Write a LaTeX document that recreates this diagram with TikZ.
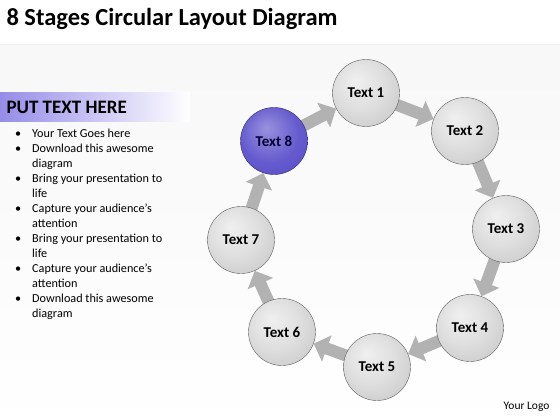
\documentclass[tikz,border=0pt]{standalone}
\usepackage{fontspec}
\setmainfont{Carlito}
\usepackage{tikz}
\usetikzlibrary{positioning, arrows.meta, backgrounds}
\definecolor{stageBlue}{RGB}{84,72,200}
\definecolor{bandPurple}{RGB}{150,140,232}
\definecolor{ringGray}{RGB}{178,178,178}
\pgfdeclareradialshading{stageSphere}{\pgfpoint{-8bp}{10bp}}{color(0bp)=(gray!12); color(18bp)=(gray!25); color(38bp)=(gray!45); color(50bp)=(gray!68)}
\pgfdeclareradialshading{focusSphere}{\pgfpoint{-6bp}{10bp}}{color(0bp)=(stageBlue!60!white); color(22bp)=(stageBlue!90!white); color(42bp)=(stageBlue); color(50bp)=(stageBlue!65!black)}
\tikzstyle{slide} = [x = 1pt, y = -1pt]
\tikzstyle{stageBall} = [circle, minimum size = 67pt, inner sep = 0pt, draw = gray!75!black, thin, shading = stageSphere, font = \fontsize{15}{17}\selectfont\bfseries]
\tikzstyle{focusBall} = [stageBall, shading = focusSphere, draw = stageBlue!55!black, text = black!80!blue]
\tikzstyle{stageArrowStyle} = [draw = ringGray, line width = 12pt, -{Triangle[length = 14pt, width = 27pt]}, shorten <= -4pt]
\newcommand{\stageArrow}[2]{\draw [stageArrowStyle] (#1) -- (#2);}
\newcommand{\bulletLine}[1]{\makebox[17pt][l]{\textbullet}#1}
\newcommand{\moreLine}[1]{\hspace*{17pt}#1}

\begin{document}
\begin{tikzpicture}[slide]
              \useasboundingbox (0, 0) rectangle (560, 420);
              % title and side panel
              \node [anchor = west, font = \fontsize{24.5}{28}\selectfont\bfseries] (title) at (3, 19) {8 Stages Circular Layout Diagram};
              \shade [left color = bandPurple, right color = white] (0, 93) rectangle (190, 121);
              \node [anchor = west, font = \fontsize{19}{22}\selectfont\bfseries] (heading) at (3, 107) {PUT TEXT HERE};
              \node [anchor = north west, align = left, inner sep = 0pt, font = \fontsize{12.2}{15}\selectfont] (bullets) at (15, 129) {
                \bulletLine{Your Text Goes here}\\
                \bulletLine{Download this awesome}\\
                \moreLine{diagram}\\
                \bulletLine{Bring your presentation to}\\
                \moreLine{life}\\
                \bulletLine{Capture your audience’s}\\
                \moreLine{attention}\\
                \bulletLine{Bring your presentation to}\\
                \moreLine{life}\\
                \bulletLine{Capture your audience’s}\\
                \moreLine{attention}\\
                \bulletLine{Download this awesome}\\
                \moreLine{diagram}};
              \node [anchor = east, font = \fontsize{11.5}{13}\selectfont] (logo) at (553, 407) {Your Logo};

              % the ring of stages
              \node [stageBall] (1) at (366, 93) {Text 1};
              \node [stageBall] (2) at (465, 131) {Text 2};
              \node [stageBall] (3) at (506, 229) {Text 3};
              \node [stageBall] (4) at (470, 328) {Text 4};
              \node [stageBall] (5) at (377, 367) {Text 5};
              \node [stageBall] (6) at (282, 332) {Text 6};
              \node [stageBall] (7) at (241, 240) {Text 7};
              \node [focusBall] (8) at (274, 141) {Text 8};

              \begin{scope}[on background layer]
                \shade [top color = gray!12, bottom color = white] (0, 45) rectangle (560, 420);
                \fill [white, opacity = 0.55] (0, 45) rectangle (560, 420);
                \stageArrow{8}{1}
                \stageArrow{1}{2}
                \stageArrow{2}{3}
                \stageArrow{3}{4}
                \stageArrow{4}{5}
                \stageArrow{5}{6}
                \stageArrow{6}{7}
                \stageArrow{7}{8}
              \end{scope}
            \end{tikzpicture}
\end{document}
